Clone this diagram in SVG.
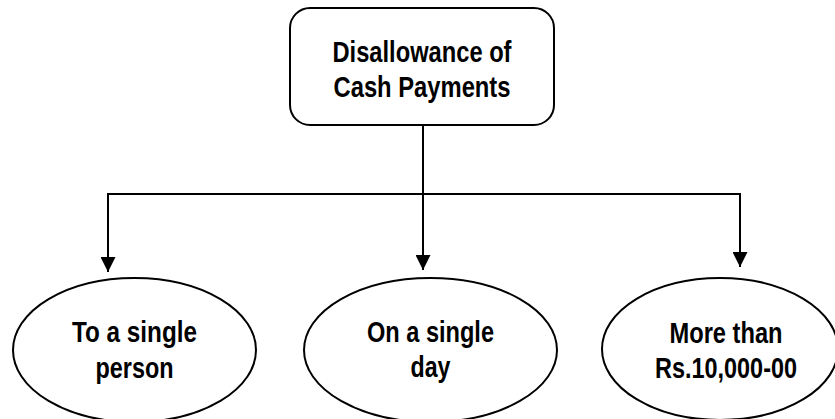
<svg xmlns="http://www.w3.org/2000/svg" width="835" height="419" viewBox="0 0 835 419">
<style>
.shape{fill:#fff;stroke:#000;stroke-width:2}
.conn{fill:none;stroke:#000;stroke-width:2}
.lbl{font-family:"Liberation Sans",Arial,sans-serif;font-weight:bold;font-size:29px;fill:#000;text-anchor:middle}
</style>
<defs>
<marker id="arr" markerUnits="userSpaceOnUse" markerWidth="15" markerHeight="15" refX="15" refY="7.5" orient="auto" viewBox="0 0 15 15">
<path d="M0,0 L15,7.5 L0,15 z" fill="#000"/>
</marker>
</defs>
<rect width="835" height="419" fill="#fff"/>
<g id="connectors">
<path class="conn" d="M423,125 V194"/>
<path class="conn" d="M107,194 H741"/>
<path class="conn" d="M108,194 V272" marker-end="url(#arr)"/>
<path class="conn" d="M423,194 V270" marker-end="url(#arr)"/>
<path class="conn" d="M740,194 V267" marker-end="url(#arr)"/>
</g>
<g id="root">
<rect class="shape" x="290" y="8" width="264" height="117" rx="20" ry="20"/>
<text class="lbl" x="422" y="62" textLength="179" lengthAdjust="spacingAndGlyphs">Disallowance of</text>
<text class="lbl" x="422" y="97" textLength="177" lengthAdjust="spacingAndGlyphs">Cash Payments</text>
</g>
<g id="person">
<ellipse class="shape" cx="134.5" cy="350" rx="121.5" ry="72"/>
<text class="lbl" x="134.5" y="342" textLength="125" lengthAdjust="spacingAndGlyphs">To a single</text>
<text class="lbl" x="134.5" y="378" textLength="78" lengthAdjust="spacingAndGlyphs">person</text>
</g>
<g id="day">
<ellipse class="shape" cx="430.5" cy="350" rx="126.5" ry="72"/>
<text class="lbl" x="430.5" y="342" textLength="127" lengthAdjust="spacingAndGlyphs">On a single</text>
<text class="lbl" x="430.5" y="377" textLength="40" lengthAdjust="spacingAndGlyphs">day</text>
</g>
<g id="amount">
<ellipse class="shape" cx="720" cy="349" rx="118" ry="71"/>
<text class="lbl" x="726" y="343" textLength="113" lengthAdjust="spacingAndGlyphs">More than</text>
<text class="lbl" x="726" y="378" textLength="142" lengthAdjust="spacingAndGlyphs">Rs.10,000-00</text>
</g>
</svg>
